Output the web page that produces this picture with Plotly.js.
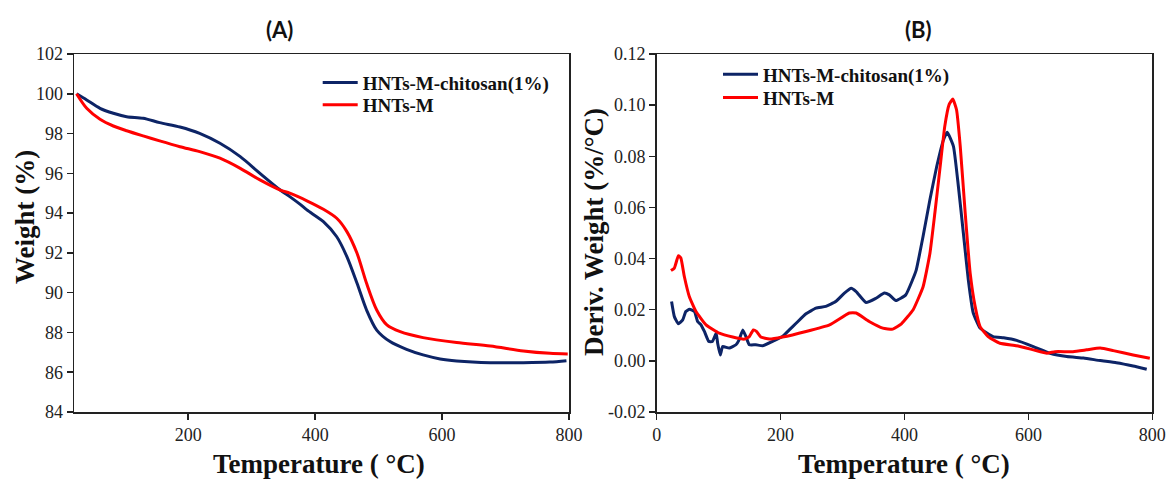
<!DOCTYPE html>
<html>
<head>
<meta charset="utf-8">
<script src="https://cdn.plot.ly/plotly-3.0.1.min.js"></script>
<style>html,body{margin:0;padding:0;background:#fff;}#chart{width:1166px;height:480px;}</style>
</head>
<body>
<div id="chart"></div>
<script>
// ---- Panel A: TGA weight (%) ----
const chitosanTempA = [24, 40, 61, 82, 103, 129, 155, 187, 218, 250, 282, 313, 345, 360, 376, 387, 413, 434, 450, 466, 481, 497, 518, 544, 570, 597, 623, 676, 728, 770, 796];
const chitosanWeightA = [100, 99.69, 99.27, 99.02, 98.85, 98.77, 98.55, 98.33, 98.01, 97.51, 96.84, 96.0, 95.16, 94.83, 94.45, 94.16, 93.57, 92.81, 91.81, 90.47, 89.13, 88.12, 87.54, 87.15, 86.87, 86.67, 86.57, 86.48, 86.48, 86.51, 86.58];
const hntsTempA = [24, 40, 61, 82, 103, 129, 155, 187, 218, 250, 282, 313, 345, 360, 387, 413, 434, 450, 466, 481, 497, 513, 534, 570, 623, 676, 728, 770, 798];
const hntsWeightA = [100, 99.27, 98.72, 98.38, 98.14, 97.88, 97.63, 97.34, 97.09, 96.76, 96.25, 95.67, 95.16, 95.0, 94.62, 94.19, 93.74, 93.07, 91.98, 90.47, 89.13, 88.38, 88.04, 87.74, 87.49, 87.32, 87.07, 86.95, 86.92];

// ---- Panel B: DTG deriv. weight (%/°C) ----
const chitosanTempB = [24, 28.5, 35, 42, 47, 53, 61, 66, 71.5, 77, 84, 90, 96, 98.4, 102.7, 106.5, 117, 128, 133, 139, 144, 149.5, 160, 171, 187, 203, 214, 225, 241, 257, 273, 289, 303, 314, 322, 338, 354, 367.5, 375.5, 386, 402, 413, 419, 430, 441, 452, 463, 469, 479, 487, 495, 503, 511, 522, 543, 560, 581, 608, 635, 662, 689, 716, 742, 769, 791];
const chitosanDerivB = [0.0232, 0.0173, 0.0145, 0.016, 0.0193, 0.0202, 0.0193, 0.0154, 0.0141, 0.0115, 0.0076, 0.0076, 0.0108, 0.0069, 0.0023, 0.0056, 0.005, 0.0063, 0.0082, 0.0121, 0.0095, 0.0063, 0.0063, 0.0059, 0.0076, 0.0095, 0.0121, 0.0147, 0.0184, 0.0206, 0.0213, 0.0232, 0.0265, 0.0284, 0.0271, 0.0228, 0.0245, 0.0265, 0.0258, 0.0236, 0.0258, 0.0317, 0.0356, 0.0487, 0.063, 0.076, 0.0865, 0.0894, 0.0839, 0.0682, 0.05, 0.0317, 0.0187, 0.0128, 0.0095, 0.009, 0.008, 0.0056, 0.003, 0.0017, 0.0011, 0.0001, -0.0007, -0.002, -0.0033];
const hntsTempB = [23, 28.5, 35, 39, 44.6, 52.6, 63.4, 79.6, 101, 122.7, 141.5, 149.5, 156, 161, 168, 182, 203, 241, 279, 311, 322, 343, 365, 381, 395, 414, 430, 441, 449, 457, 465, 472, 478, 484, 490, 498, 506, 514, 522, 535, 554, 581, 608, 630, 643, 672, 694, 716, 737, 769, 796];
const hntsDerivB = [0.0353, 0.0363, 0.0411, 0.0402, 0.033, 0.0252, 0.0193, 0.0141, 0.0108, 0.0093, 0.0085, 0.0095, 0.0121, 0.0115, 0.0093, 0.0085, 0.0093, 0.0115, 0.0141, 0.0187, 0.0187, 0.0154, 0.0128, 0.0124, 0.0145, 0.020, 0.029, 0.042, 0.0578, 0.0748, 0.0917, 0.1002, 0.1024, 0.0982, 0.0839, 0.0578, 0.0343, 0.0213, 0.0134, 0.0095, 0.0069, 0.0059, 0.0043, 0.003, 0.0036, 0.0036, 0.0043, 0.005, 0.004, 0.0023, 0.001];

// ---- names and tick labels ----
const seriesNames = ['HNTs-M-chitosan(1%)', 'HNTs-M'];
const tickValsXA = [200, 400, 600, 800];
const tickValsYA = [84, 86, 88, 90, 92, 94, 96, 98, 100, 102];
const tickValsXB = [0, 200, 400, 600, 800];
const tickValsYB = [-0.02, 0, 0.02, 0.04, 0.06, 0.08, 0.10, 0.12];
const tickTextYB = ['-0.02', '0.00', '0.02', '0.04', '0.06', '0.08', '0.10', '0.12'];

const BLUE = '#0d2466';
const RED = '#ff0000';
const SERIF = 'Liberation Serif';

const traces = [
  {x: chitosanTempA, y: chitosanWeightA, name: seriesNames[0], mode: 'lines', line: {color: BLUE, width: 3, shape: 'spline', smoothing: 0.8}, xaxis: 'x', yaxis: 'y', legend: 'legend'},
  {x: hntsTempA, y: hntsWeightA, name: seriesNames[1], mode: 'lines', line: {color: RED, width: 3, shape: 'spline', smoothing: 0.8}, xaxis: 'x', yaxis: 'y', legend: 'legend2'},
  {x: chitosanTempB, y: chitosanDerivB, name: seriesNames[0], mode: 'lines', line: {color: BLUE, width: 3, shape: 'spline', smoothing: 0.4}, xaxis: 'x2', yaxis: 'y2', legend: 'legend3'},
  {x: hntsTempB, y: hntsDerivB, name: seriesNames[1], mode: 'lines', line: {color: RED, width: 3, shape: 'spline', smoothing: 0.4}, xaxis: 'x2', yaxis: 'y2', legend: 'legend4'}
];

const W = 1166, H = 480;
function axis(extra) {
  return Object.assign({
    showgrid: false, zeroline: false, showline: true, mirror: true,
    linecolor: '#222', linewidth: 1.5, ticks: 'outside', ticklen: 6, tickwidth: 1.5, tickcolor: '#222',
    tickfont: {family: SERIF, size: 18, color: '#222'}, automargin: false
  }, extra);
}
function leg(xpx, ypx) {
  return {x: xpx / W, y: 1 - ypx / H, xanchor: 'left', yanchor: 'middle', bgcolor: 'rgba(0,0,0,0)', borderwidth: 0,
          font: {family: SERIF, size: 19, color: '#111', weight: 'bold'}, itemwidth: 35, itemclick: false, itemdoubleclick: false};
}
function tfont() { return {family: SERIF, size: 27, color: '#111', weight: 'bold'}; }
function pfont() { return {family: 'Lato', size: 22, color: '#111', weight: 'bold'}; }
const layout = {
  width: W, height: H,
  font: {family: SERIF, size: 18, color: '#222'},
  margin: {l: 0, r: 0, t: 0, b: 0},
  paper_bgcolor: '#fff', plot_bgcolor: '#fff',
  showlegend: true,
  xaxis: axis({domain: [74 / W, 569 / W], range: [20, 800], tickvals: tickValsXA, anchor: 'y'}),
  yaxis: axis({domain: [68 / H, 426 / H], range: [84, 102], tickvals: tickValsYA, anchor: 'x'}),
  xaxis2: axis({domain: [656.7 / W, 1152.3 / W], range: [0, 800], tickvals: tickValsXB, anchor: 'y2'}),
  yaxis2: axis({domain: [68 / H, 426 / H], range: [-0.02, 0.12], tickvals: tickValsYB, ticktext: tickTextYB, anchor: 'x2'}),
  legend: leg(317.7, 82.7),
  legend2: leg(317.7, 105),
  legend3: leg(718, 74.3),
  legend4: leg(718, 97.7),
  annotations: [
    {text: '(A)', xref: 'paper', yref: 'paper', x: 279 / W, y: 1 - 29 / H, xanchor: 'center', yanchor: 'middle', showarrow: false, font: pfont()},
    {text: '(B)', xref: 'paper', yref: 'paper', x: 918 / W, y: 1 - 29 / H, xanchor: 'center', yanchor: 'middle', showarrow: false, font: pfont()},
    {text: 'Temperature ( °C)', xref: 'paper', yref: 'paper', x: 319 / W, y: 1 - 464 / H, xanchor: 'center', yanchor: 'middle', showarrow: false, font: tfont()},
    {text: 'Temperature ( °C)', xref: 'paper', yref: 'paper', x: 903.5 / W, y: 1 - 464 / H, xanchor: 'center', yanchor: 'middle', showarrow: false, font: tfont()},
    {text: 'Weight (%)', xref: 'paper', yref: 'paper', x: 25 / W, y: 1 - 217 / H, xanchor: 'center', yanchor: 'middle', textangle: -90, showarrow: false, font: tfont()},
    {text: 'Deriv. Weight (%/°C)', xref: 'paper', yref: 'paper', x: 594 / W, y: 1 - 232 / H, xanchor: 'center', yanchor: 'middle', textangle: -90, showarrow: false, font: tfont()}
  ]
};
Plotly.newPlot('chart', traces, layout, {staticPlot: true, displayModeBar: false});
</script>
</body>
</html>
